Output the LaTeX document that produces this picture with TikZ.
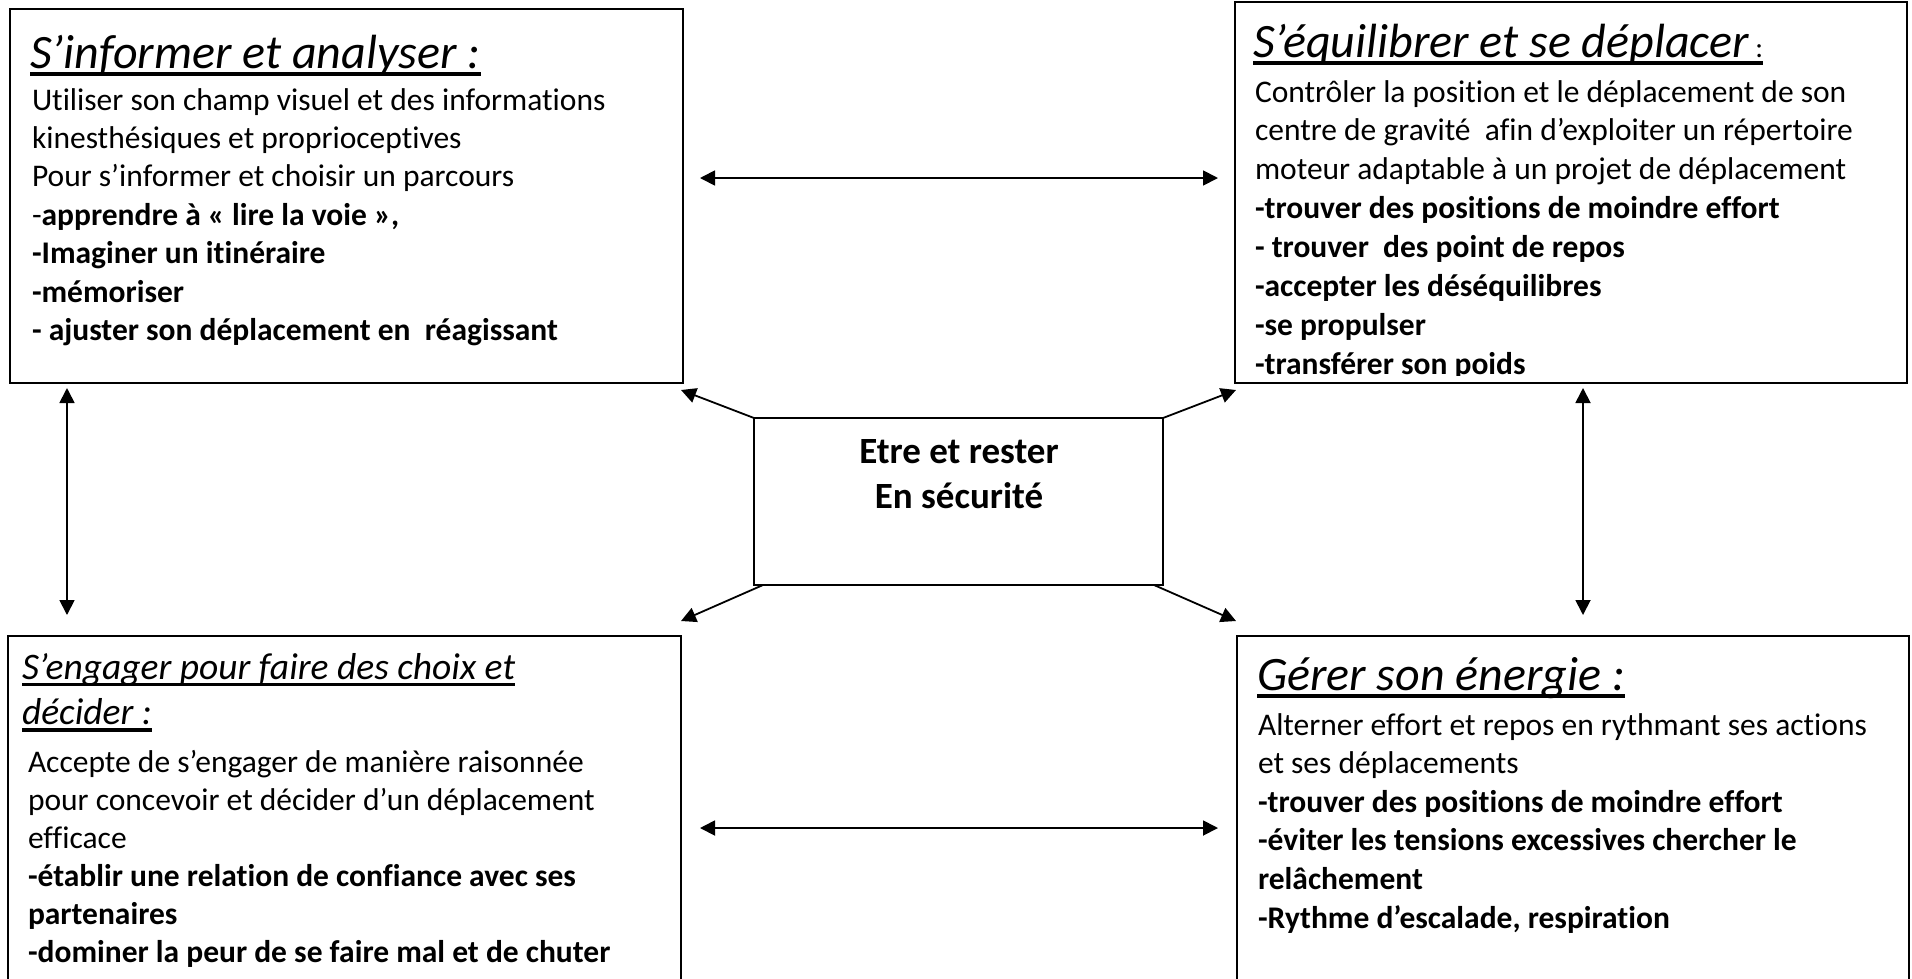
\documentclass[tikz,border=0pt]{standalone}
\usepackage{fontspec}
\setmainfont{Carlito}[Ligatures=NoCommon]
\usetikzlibrary{arrows.meta,calc}
\newcommand{\myul}[2][7.5]{\leavevmode\setbox0=\hbox{#2}\rlap{\rule[-#1pt]{\wd0}{3.2pt}}\box0}
\begin{document}
\begin{tikzpicture}[x=1pt,y=-1pt,
  box/.style={draw, line width=2.2pt, rectangle, inner sep=0pt, outer sep=0pt, anchor=north west},
  txt/.style={anchor=base west, inner sep=0pt, outer sep=0pt},
  body/.style={font=\fontsize{31.5}{38.4}\selectfont},
  ttl/.style={font=\fontsize{48}{56}\selectfont\itshape},
  arr/.style={line width=1.8pt, -{Triangle[length=15pt,width=15pt]}},
  darr/.style={line width=1.8pt, {Triangle[length=15pt,width=15pt]}-{Triangle[length=15pt,width=15pt]}}]
\useasboundingbox (0,0) rectangle (1912,978);
\fill[white] (0,0) rectangle (1912,978);
% boxes
\node[box, minimum width=673pt, minimum height=374pt] (tl) at (10,9) {};
\node[box, minimum width=672pt, minimum height=381pt] (tr) at (1235,2) {};
\node[box, minimum width=409pt, minimum height=167pt] (c) at (754,418) {};
\node[box, minimum width=673pt, minimum height=360pt] (bl) at (8,636) {};
\node[box, minimum width=672pt, minimum height=360pt] (br) at (1237,636) {};
% texts
\node[txt, ttl] (tlt) at (30,68) {\myul{S’informer et analyser :}};
\node[txt, body] (tlb) at (32,110) {\parbox[t]{660pt}{\fontsize{31.5}{38.4}\selectfont
Utiliser son champ visuel et des informations\\
kinesthésiques et proprioceptives\\
Pour s’informer et choisir un parcours\\
-\textbf{apprendre à « lire la voie »,}\\
\textbf{-Imaginer un itinéraire}\\
\textbf{-mémoriser}\\
\textbf{- ajuster son déplacement en~ réagissant}}};
\node[txt, ttl] (trt) at (1253,57) {\myul{S’équilibrer et se déplacer\fontsize{29}{30}\selectfont\upshape\ :}};
\begin{scope}
\clip (1235,2) rectangle (1907,375);
\node[txt, body] (trb) at (1255,102) {\parbox[t]{660pt}{\fontsize{31.5}{38.9}\selectfont
Contrôler la position et le déplacement de son\\
centre de gravité~ afin d’exploiter un répertoire\\
moteur adaptable à un projet de déplacement\\
\textbf{-trouver des positions de moindre effort}\\
\textbf{- trouver~ des point de repos}\\
\textbf{-accepter les déséquilibres}\\
\textbf{-se propulser}\\
\textbf{-transférer son poids}}};
\end{scope}
\node[txt, ttl] (blt) at (22,679) {\parbox[t]{660pt}{\fontsize{37.5}{45.5}\selectfont\itshape
\myul[7]{S’engager pour faire des choix et}\\
\myul[7]{décider :}}};
\node[txt, body] (blb) at (28,772) {\parbox[t]{660pt}{\fontsize{31.5}{38}\selectfont
Accepte de s’engager de manière raisonnée\\
pour concevoir et décider d’un déplacement\\
efficace\\
\textbf{-établir une relation de confiance avec ses}\\
\textbf{partenaires}\\
\textbf{-dominer la peur de se faire mal et de chuter}}};
\node[txt, ttl] (brt) at (1257,690) {\myul{Gérer son énergie :}};
\node[txt, body] (brb) at (1258,735) {\parbox[t]{640pt}{\fontsize{31.5}{38.6}\selectfont
Alterner effort et repos en rythmant ses actions\\
et ses déplacements\\
\textbf{-trouver des positions de moindre effort}\\
\textbf{-éviter les tensions excessives chercher le}\\
\textbf{relâchement}\\
\textbf{-Rythme d’escalade, respiration}}};
\node[txt, anchor=base] (ct) at (959,463) {\parbox[t]{380pt}{\centering\fontsize{37}{45}\selectfont\bfseries Etre et rester\\En sécurité}};
% connectors
\coordinate (h1) at (0,178);
\coordinate (h2) at (0,828);
\coordinate (v1) at (67,0);
\coordinate (v2) at (1583,0);
\draw[darr] ($(tl.east |- h1)+(17,0)$) -- ($(tr.west |- h1)+(-17,0)$);
\draw[darr] ($(bl.east |- h2)+(19,0)$) -- ($(br.west |- h2)+(-19,0)$);
\draw[darr] ($(tl.south -| v1)+(0,5)$) -- ($(bl.north -| v1)+(0,-21)$);
\draw[darr] ($(tr.south -| v2)+(0,5)$) -- ($(br.north -| v2)+(0,-21)$);
\draw[arr] (c.north west) -- ($(tl.south east)+(-2,7)$);
\draw[arr] (c.north east) -- ($(tr.south west)+(1,7)$);
\draw[arr] ($(c.south west)+(9,0)$) -- ($(bl.north east)+(0,-15)$);
\draw[arr] ($(c.south east)+(-9,0)$) -- ($(br.north west)+(-1,-15)$);
\end{tikzpicture}
\end{document}
